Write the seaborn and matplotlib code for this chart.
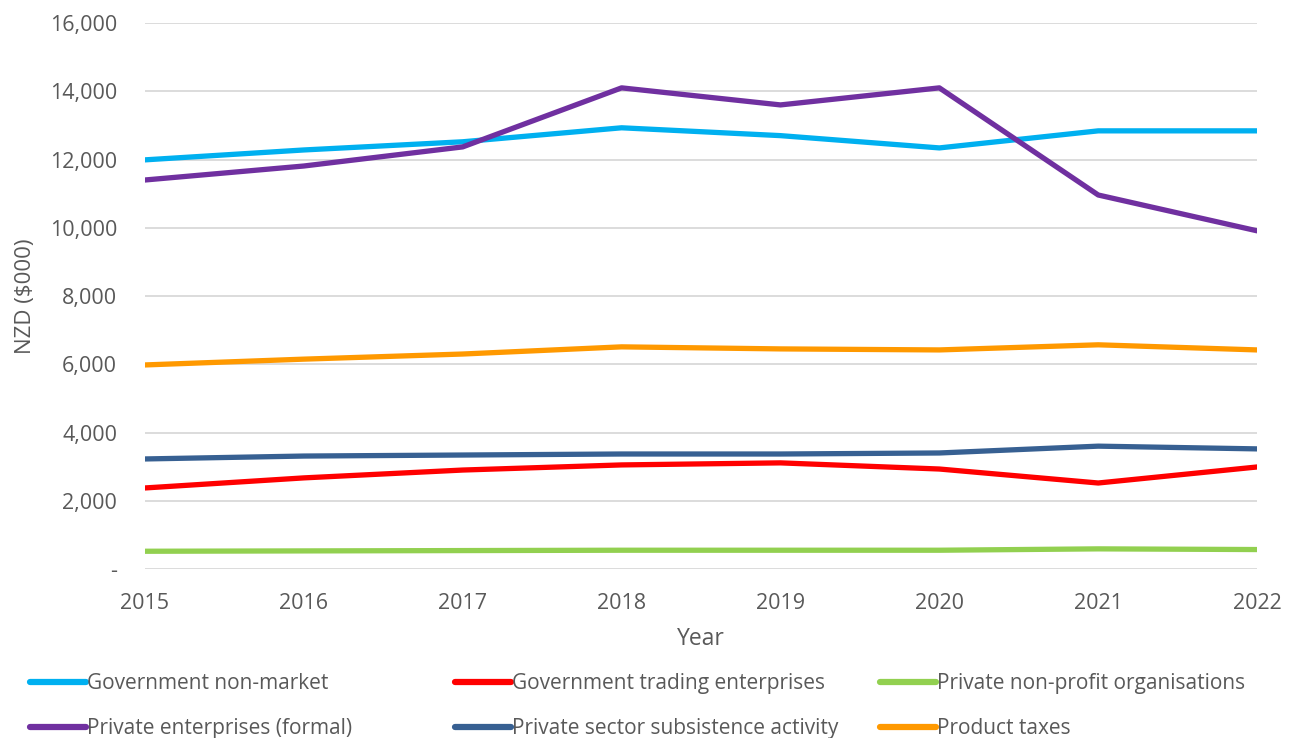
import matplotlib
matplotlib.use("Agg")
import matplotlib.pyplot as plt
import seaborn as sns
import pandas as pd
from matplotlib.ticker import FuncFormatter
from matplotlib.lines import Line2D

years = [2015, 2016, 2017, 2018, 2019, 2020, 2021, 2022]
gov_non_market = [11990, 12280, 12520, 12930, 12700, 12340, 12840, 12840]
gov_trading = [2375, 2670, 2900, 3050, 3110, 2930, 2520, 2990]
private_non_profit = [520, 530, 540, 550, 550, 550, 590, 570]
private_formal = [11400, 11810, 12370, 14100, 13600, 14100, 10960, 9910]
private_subsistence = [3225, 3310, 3340, 3370, 3370, 3400, 3600, 3520]
product_taxes = [5980, 6150, 6300, 6510, 6450, 6420, 6570, 6420]

series_names = [
    "Government non-market",
    "Government trading enterprises",
    "Private non-profit organisations",
    "Private enterprises (formal)",
    "Private sector subsistence activity",
    "Product taxes",
]
series_values = [gov_non_market, gov_trading, private_non_profit,
                 private_formal, private_subsistence, product_taxes]
colors = ["#00B0F0", "#FF0000", "#92D050", "#7030A0", "#376092", "#FF9900"]

rows = []
for name, vals in zip(series_names, series_values):
    for y, v in zip(years, vals):
        rows.append({"Year": y, "Value": v, "Series": name})
df = pd.DataFrame(rows)

sns.set_style("white")
plt.rcParams['font.family'] = ['Open Sans', 'DejaVu Sans']
text_color = "#595959"

fig = plt.figure(figsize=(12.92, 7.38), dpi=100)
ax = fig.add_axes([0.1122, 0.229, 0.973 - 0.1122, 0.9688 - 0.229])

sns.lineplot(data=df, x="Year", y="Value", hue="Series", hue_order=series_names,
             palette=colors, linewidth=3.8, ax=ax, legend=False)

ax.set_xlim(2015, 2022)
ax.set_ylim(0, 16000)
ax.set_yticks(range(0, 16001, 2000))
ax.set_xticks(years)
ax.yaxis.set_major_formatter(FuncFormatter(lambda v, p: "-" if v == 0 else f"{int(v):,}"))
ax.grid(axis="y", color="#D9D9D9", linewidth=1.3)
ax.grid(axis="x", visible=False)
for s in ax.spines.values():
    s.set_visible(False)
ax.tick_params(axis="both", length=0, labelsize=15.5, labelcolor=text_color)
ax.tick_params(axis="x", pad=17)
ax.tick_params(axis="y", pad=20)
ax.set_xlabel("Year", fontsize=16.5, color=text_color, labelpad=10)
ax.set_ylabel("NZD ($000)", fontsize=16, color=text_color, labelpad=10)

# legend: three columns, filled row-wise
col_x = [30, 455, 880]
for i, x0 in enumerate(col_x):
    idx = [i, i + 3]
    handles = [Line2D([0], [0], color=colors[j], linewidth=4.5, solid_capstyle="round") for j in idx]
    labels = [series_names[j] for j in idx]
    fig.legend(handles, labels, loc="center left",
               bbox_to_anchor=(x0 / 1292, 1 - 706 / 738),
               frameon=False, fontsize=15, labelcolor=text_color,
               handlelength=2.7, handletextpad=0.05, labelspacing=1.15,
               borderpad=0, borderaxespad=0)

fig.savefig("out.png", dpi=100)
